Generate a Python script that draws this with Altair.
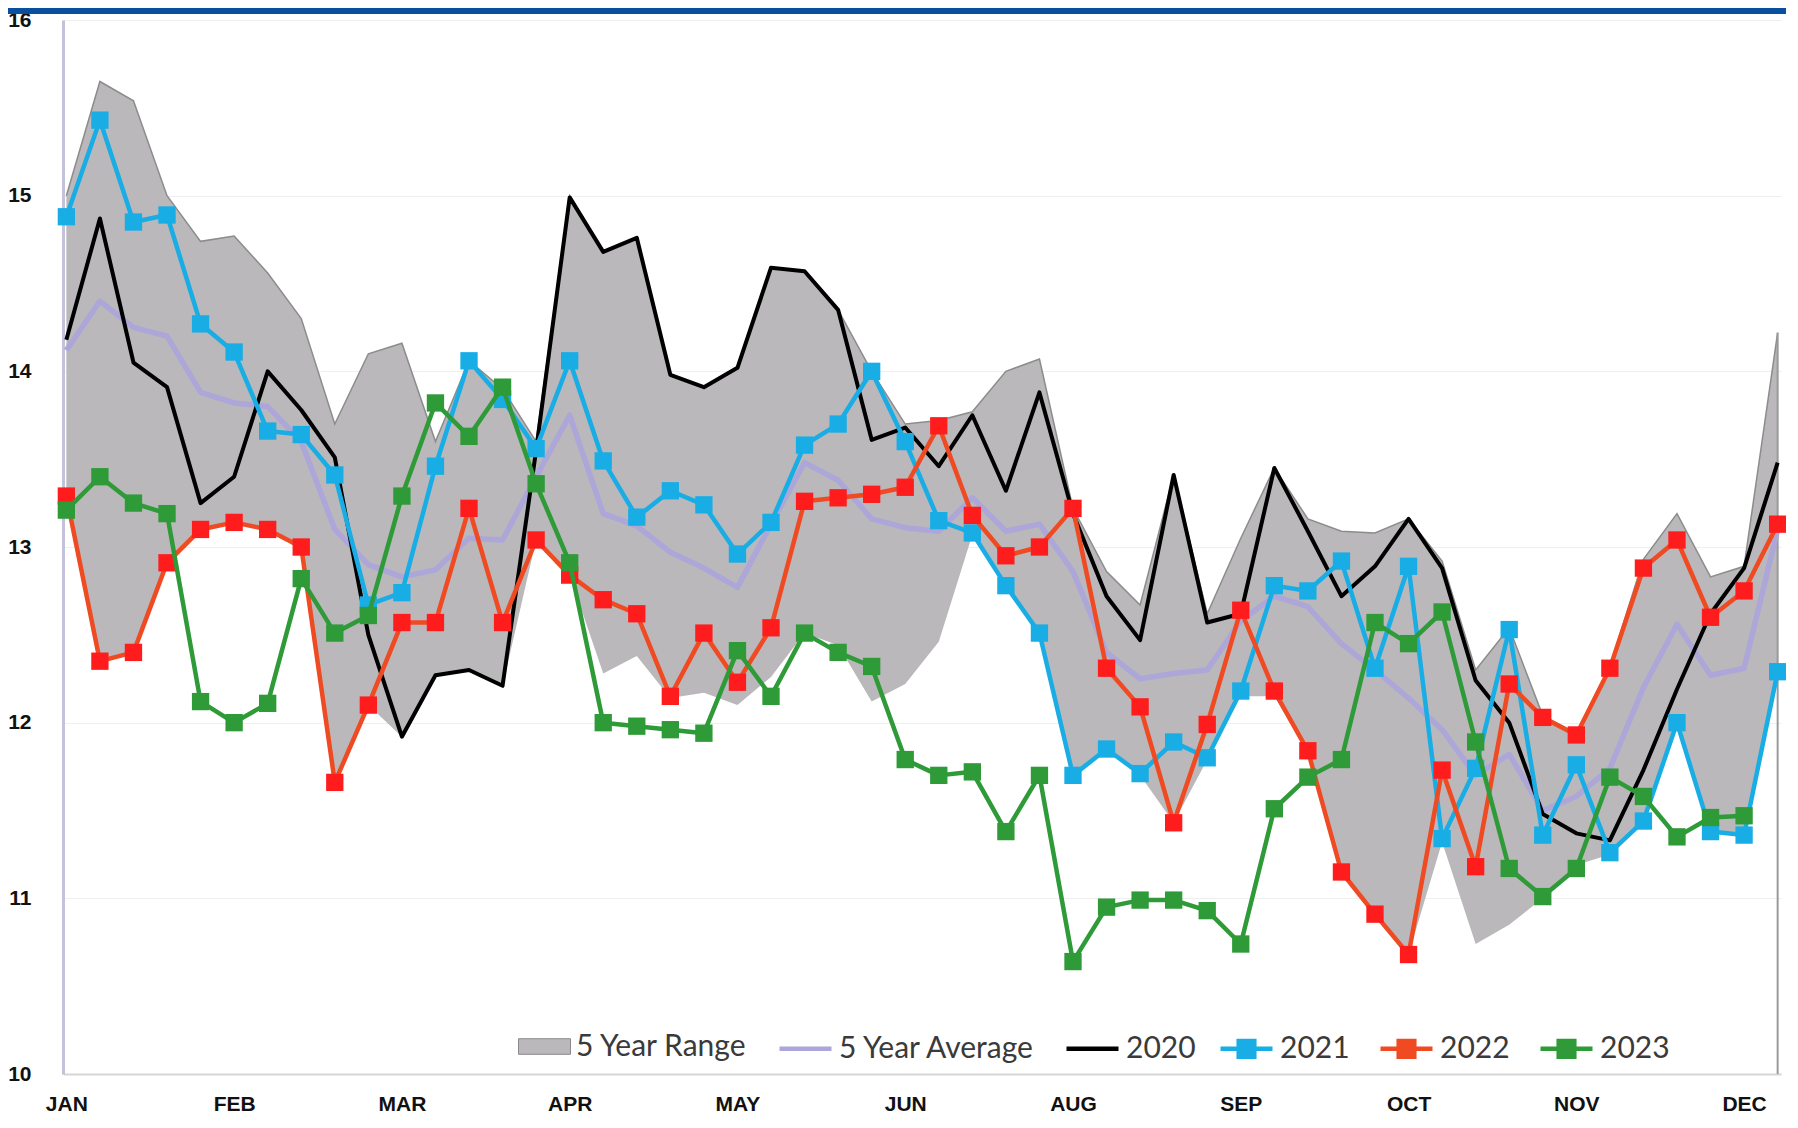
import altair as alt
import pandas as pd

# ---------------- data ----------------
months = ["JAN", "FEB", "MAR", "APR", "MAY", "JUN", "AUG", "SEP", "OCT", "NOV", "DEC"]
month_weeks = [0, 5, 10, 15, 20, 25, 30, 35, 40, 45, 50]
y_ticks = [10, 11, 12, 13, 14, 15, 16]
weeks = list(range(52))

range_min = [13.28, 12.35, 12.40, 12.91, 13.10, 13.14, 13.10, 13.00, 11.66, 12.10,
             11.92, 12.27, 12.30, 12.21, 13.04, 12.84, 12.28, 12.38, 12.14, 12.17,
             12.10, 12.26, 12.51, 12.44, 12.12, 12.22, 12.46, 13.07, 12.77, 12.50,
             11.69, 11.84, 11.70, 11.43, 11.79, 12.15, 12.15, 11.83, 11.15, 10.91,
             10.68, 11.32, 10.74, 10.85, 11.00, 11.19, 11.25, 11.43, 12.00, 11.38,
             11.35, 12.28]
range_max = [15.00, 15.65, 15.54, 15.00, 14.74, 14.77, 14.56, 14.30, 13.70, 14.10,
             14.16, 13.60, 14.06, 13.90, 13.60, 15.00, 14.68, 14.76, 13.98, 13.91,
             14.02, 14.59, 14.57, 14.35, 14.00, 13.70, 13.72, 13.77, 14.00, 14.07,
             13.22, 12.86, 12.67, 13.41, 12.62, 13.05, 13.45, 13.16, 13.09, 13.08,
             13.16, 12.92, 12.30, 12.54, 12.04, 11.94, 12.32, 12.93, 13.19, 12.83,
             12.89, 14.22]
avg5 = [14.12, 14.40, 14.25, 14.20, 13.88, 13.82, 13.80, 13.60, 13.10, 12.90,
        12.83, 12.87, 13.05, 13.04, 13.40, 13.75, 13.19, 13.12, 12.97, 12.88,
        12.77, 13.13, 13.48, 13.38, 13.16, 13.11, 13.09, 13.28, 13.09, 13.13,
        12.86, 12.40, 12.25, 12.28, 12.30, 12.58, 12.72, 12.66, 12.45, 12.30,
        12.14, 11.96, 11.70, 11.82, 11.50, 11.58, 11.74, 12.20, 12.56, 12.27,
        12.31, 13.10]
y2020 = [14.18, 14.87, 14.05, 13.91, 13.25, 13.40, 14.00, 13.78, 13.51, 12.50,
         11.92, 12.27, 12.30, 12.21, 13.55, 14.99, 14.68, 14.76, 13.98, 13.91,
         14.02, 14.59, 14.57, 14.35, 13.61, 13.68, 13.46, 13.75, 13.32, 13.88,
         13.19, 12.72, 12.47, 13.41, 12.57, 12.62, 13.45, 13.09, 12.72, 12.89,
         13.16, 12.88, 12.24, 12.00, 11.48, 11.37, 11.33, 11.73, 12.19, 12.62,
         12.88, 13.48]
y2021 = [14.88, 15.43, 14.85, 14.89, 14.27, 14.11, 13.66, 13.64, 13.41, 12.67,
         12.74, 13.46, 14.06, 13.84, 13.56, 14.06, 13.49, 13.17, 13.32, 13.24,
         12.96, 13.14, 13.58, 13.70, 14.00, 13.60, 13.15, 13.08, 12.78, 12.51,
         11.70, 11.85, 11.71, 11.89, 11.80, 12.18, 12.78, 12.75, 12.92, 12.31,
         12.89, 11.34, 11.74, 12.53, 11.36, 11.76, 11.26, 11.44, 12.00, 11.38,
         11.36, 12.29]
y2022 = [13.29, 12.35, 12.40, 12.91, 13.10, 13.14, 13.10, 13.00, 11.66, 12.10,
         12.57, 12.57, 13.22, 12.57, 13.04, 12.84, 12.70, 12.62, 12.15, 12.51,
         12.23, 12.54, 13.26, 13.28, 13.30, 13.34, 13.69, 13.18, 12.95, 13.00,
         13.22, 12.31, 12.09, 11.43, 11.99, 12.64, 12.18, 11.84, 11.15, 10.91,
         10.68, 11.73, 11.18, 12.22, 12.03, 11.93, 12.31, 12.88, 13.04, 12.60,
         12.75, 13.13]
y2023 = [13.21, 13.40, 13.25, 13.19, 12.12, 12.00, 12.11, 12.82, 12.51, 12.61,
         13.29, 13.82, 13.63, 13.91, 13.36, 12.91, 12.00, 11.98, 11.96, 11.94,
         12.41, 12.15, 12.51, 12.40, 12.32, 11.79, 11.70, 11.72, 11.38, 11.70,
         10.64, 10.95, 10.99, 10.99, 10.93, 10.74, 11.51, 11.69, 11.79, 12.57,
         12.45, 12.63, 11.89, 11.17, 11.01, 11.17, 11.69, 11.58, 11.35, 11.46,
         11.47]

range_label = "5 Year Range"
series_b = ["5 Year Average", "2020"]
series_c = ["2021", "2022", "2023"]
colors_b = ["#aca7d8", "#000000"]
widths_b = [5.5, 4]
line_colors_c = ["#19ade6", "#ef4a22", "#2e9a38"]
marker_colors_c = ["#19ade6", "#ff1c1c", "#2e9a38"]

# ---------------- tables ----------------
df_range = pd.DataFrame({"week": weeks, "lo": range_min, "hi": range_max, "rng": range_label})


def series_df(name, values):
    return pd.DataFrame({"week": weeks[:len(values)], "value": values, "series": name})


df_edge = pd.DataFrame({"week": [weeks[-1]], "lo": [y_ticks[0]], "hi": [range_max[-1]]})

# ---------------- layout ----------------
PLOT_W, PLOT_H = 1718, 1054
PAD = {"left": 55, "top": 12, "right": 5, "bottom": 40}

step = month_weeks[1] - month_weeks[0]
label_expr = "[" + ",".join("'%s'" % m for m in months) + "][round(datum.value/%d)]" % step

xenc = alt.X("week:Q",
             scale=alt.Scale(domain=[-0.1, 51.1], nice=False, zero=False),
             axis=alt.Axis(values=month_weeks, labelExpr=label_expr, title=None, grid=False,
                           ticks=False, domainColor="#d6d6d6", domainWidth=2,
                           labelFont="Liberation Sans", labelFontWeight="bold",
                           labelFontSize=21, labelColor="#111111", labelPadding=19,
                           labelFlush=False))


def yenc(field):
    return alt.Y(f"{field}:Q",
                 scale=alt.Scale(domain=[y_ticks[0], y_ticks[-1]], nice=False, zero=False),
                 axis=alt.Axis(values=y_ticks, format="d", title=None, ticks=False, grid=True,
                               gridColor="#efefef", gridWidth=1, domainColor="#c4c2d8",
                               domainWidth=3, labelFont="Liberation Sans",
                               labelFontWeight="bold", labelFontSize=21,
                               labelColor="#111111", labelPadding=32))


leg_common = dict(title=None, orient="none", direction="horizontal", padding=0,
                  labelFont="Lato", labelFontSize=30, labelColor="#3a3a3a", labelLimit=0,
                  labelOffset=5, columnPadding=21, symbolSize=2704, symbolOpacity=1,
                  legendY=1000)

legA = alt.Legend(legendX=455, symbolType="M-1,-0.3H1V0.3H-1Z",
                  symbolStrokeColor="#8a8a8a", symbolStrokeWidth=1, **leg_common)
legB = alt.Legend(legendX=714, symbolType="stroke", symbolStrokeWidth=4.5, **leg_common)
legC = alt.Legend(legendX=1155,
                  symbolType=("M-1,0H1 M-0.3,-0.3H0.3V0.3H-0.3Z "
                              "M-0.16,-0.16H0.16V0.16H-0.16Z M-0.03,-0.03H0.03V0.03H-0.03Z"),
                  symbolStrokeWidth=4.5, **leg_common)

# ---------------- layers ----------------
area = alt.Chart(df_range).mark_area(opacity=1).encode(
    x=xenc, y=yenc("lo"), y2=alt.Y2("hi:Q"),
    fill=alt.Fill("rng:N", scale=alt.Scale(domain=[range_label], range=["#bab8ba"]), legend=legA),
)
area_top = alt.Chart(df_range).mark_line(color="#8c8c8c", strokeWidth=1.5).encode(
    x=xenc, y=yenc("hi"))

edge = alt.Chart(df_edge).mark_rule(color="#9a9a9a", strokeWidth=2).encode(
    x=xenc, y=yenc("lo"), y2=alt.Y2("hi:Q"))

layers = [area, area_top, edge]

stroke_scale = alt.Scale(domain=series_b, range=colors_b)
for name, vals, w in zip(series_b, [avg5, y2020], widths_b):
    layers.append(
        alt.Chart(series_df(name, vals)).mark_line(strokeWidth=w, strokeJoin="round").encode(
            x=xenc, y=yenc("value"),
            stroke=alt.Stroke("series:N", scale=stroke_scale, legend=legB),
        )
    )

color_scale = alt.Scale(domain=series_c, range=line_colors_c)
for name, vals, mc in zip(series_c, [y2021, y2022, y2023], marker_colors_c):
    d = series_df(name, vals)
    layers.append(
        alt.Chart(d).mark_line(strokeWidth=4.5, strokeJoin="round").encode(
            x=xenc, y=yenc("value"),
            color=alt.Color("series:N", scale=color_scale, legend=legC),
        )
    )
    layers.append(
        alt.Chart(d).mark_square(size=300, color=mc, opacity=1).encode(
            x=xenc, y=yenc("value"))
    )

top_bar = alt.Chart(pd.DataFrame({"k": [0]})).mark_rect(color="#0a4e9e").encode(
    x=alt.value(-PAD["left"]), x2=alt.value(PLOT_W + PAD["right"]),
    y=alt.value(-PAD["top"]), y2=alt.value(-6))
layers.append(top_bar)

chart = alt.layer(*layers).properties(
    width=PLOT_W, height=PLOT_H,
    autosize=alt.AutoSizeParams(type="none"),
    padding=PAD,
    background="#ffffff",
).configure_view(stroke=None)

chart.save("out.html", embed_options={"renderer": "svg", "actions": False})
